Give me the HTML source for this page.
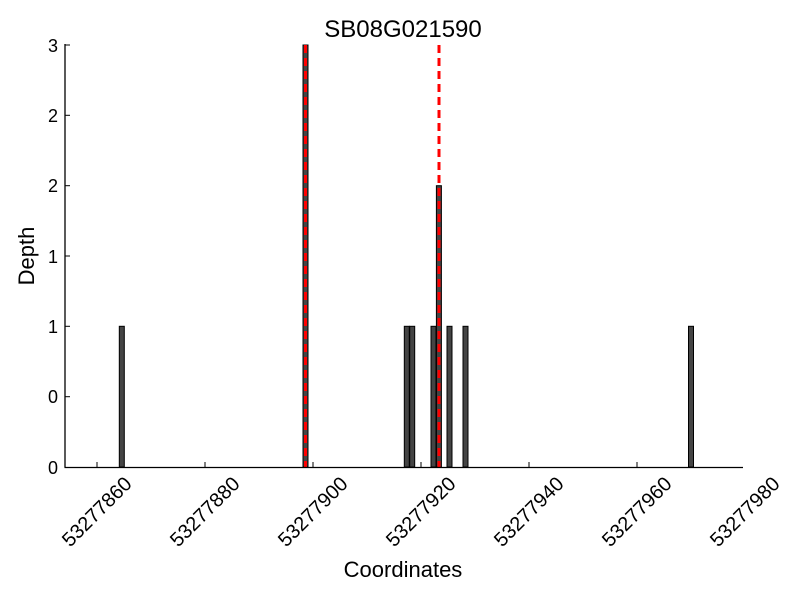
<!DOCTYPE html>
<html><head><style>body{margin:0;background:#fff}svg{display:block}</style></head><body>
<svg width="800" height="600" xmlns="http://www.w3.org/2000/svg" font-family="Liberation Sans, sans-serif">
<rect width="800" height="600" fill="#fff"/>
<g fill="#444" stroke="#000" stroke-width="1">
<rect x="119.3" y="326.3" width="5" height="140.7"/>
<rect x="303" y="45" width="5" height="422"/>
<rect x="404.3" y="326.3" width="5" height="140.7"/>
<rect x="409.7" y="326.3" width="5" height="140.7"/>
<rect x="431" y="326.3" width="5" height="140.7"/>
<rect x="436.4" y="185.7" width="5" height="281.3"/>
<rect x="447" y="326.3" width="5" height="140.7"/>
<rect x="463" y="326.3" width="5" height="140.7"/>
<rect x="688.5" y="326.3" width="5" height="140.7"/>
</g>
<g stroke="#f00" stroke-width="3" stroke-dasharray="8,5">
<line x1="305.5" y1="45" x2="305.5" y2="467"/>
<line x1="439" y1="45" x2="439" y2="467"/>
</g>
<g stroke="#000" stroke-width="1.3" fill="none">
<line x1="65" y1="44" x2="65" y2="467.5"/>
<line x1="64.5" y1="467.5" x2="743" y2="467.5"/>
</g>
<g stroke="#000" stroke-width="1">
<line x1="65" y1="45" x2="70" y2="45"/>
<line x1="65" y1="115.3" x2="70" y2="115.3"/>
<line x1="65" y1="185.7" x2="70" y2="185.7"/>
<line x1="65" y1="256" x2="70" y2="256"/>
<line x1="65" y1="326.3" x2="70" y2="326.3"/>
<line x1="65" y1="396.7" x2="70" y2="396.7"/>
<line x1="97" y1="462" x2="97" y2="467"/>
<line x1="205" y1="462" x2="205" y2="467"/>
<line x1="313" y1="462" x2="313" y2="467"/>
<line x1="421" y1="462" x2="421" y2="467"/>
<line x1="529" y1="462" x2="529" y2="467"/>
<line x1="637" y1="462" x2="637" y2="467"/>
</g>
<g font-size="18" text-anchor="end" fill="#000">
<text x="58" y="52">3</text>
<text x="58" y="122">2</text>
<text x="58" y="192">2</text>
<text x="58" y="263">1</text>
<text x="58" y="333">1</text>
<text x="58" y="403">0</text>
<text x="58" y="474">0</text>
</g>
<g font-size="20" text-anchor="end" fill="#000">
<text transform="translate(133,485) rotate(-45)">53277860</text>
<text transform="translate(241,485) rotate(-45)">53277880</text>
<text transform="translate(349,485) rotate(-45)">53277900</text>
<text transform="translate(457,485) rotate(-45)">53277920</text>
<text transform="translate(565,485) rotate(-45)">53277940</text>
<text transform="translate(673,485) rotate(-45)">53277960</text>
<text transform="translate(781,485) rotate(-45)">53277980</text>
</g>
<text x="403" y="577" font-size="22" text-anchor="middle">Coordinates</text>
<text transform="translate(34,256) rotate(-90)" font-size="22" text-anchor="middle">Depth</text>
<text x="403" y="37" font-size="24" text-anchor="middle">SB08G021590</text>
</svg>
</body></html>
